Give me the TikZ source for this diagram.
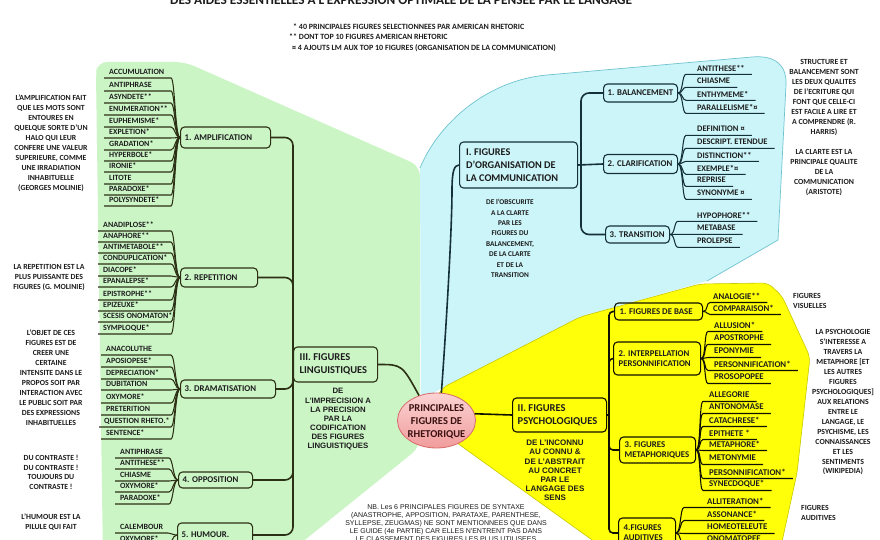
\documentclass[tikz,border=0pt]{standalone}
\usepackage{fontspec}
\setmainfont{Carlito}
\newfontfamily\arialf{Liberation Sans}
\usetikzlibrary{calc,shapes.geometric}
\definecolor{gbg}{HTML}{CCF5C6}
\definecolor{bbg}{HTML}{CCF5F9}
\definecolor{bout}{HTML}{6EC3CF}
\definecolor{ybg}{HTML}{FFFF0A}
\definecolor{yout}{HTML}{C8C800}
\definecolor{gln}{HTML}{2C3014}
\definecolor{bln}{HTML}{14303A}
\definecolor{yln}{HTML}{101000}
\definecolor{txt}{HTML}{1C1C1C}
\definecolor{pinkt}{HTML}{FBD3D3}
\definecolor{pinkb}{HTML}{F19C9C}
\definecolor{pinkd}{HTML}{D86A6A}
\definecolor{ctrtxt}{HTML}{3A1010}
\def\uo{6}
\def\bxp{4.5}
\newcommand{\LIt}[6]{%
  \node[itm,anchor=west] (#2) at (#4,#5) {#6};
  \coordinate (#2u) at (#3,{#5+\uo});
  \draw[brl] (#1.west) .. controls +(-5,0) and +(4,0) .. (#2u) -- ($(#2.west |- #2u)+(-5,0)$);}
\newcommand{\RIt}[6]{%
  \node[itm,anchor=west] (#2) at (#4,#5) {#6};
  \coordinate (#2u) at (#3,{#5+\uo});
  \draw[brl] (#1.east) .. controls +(5,0) and +(-4,0) .. (#2u) -- ($(#2.east |- #2u)+(7,0)$);}
\newcommand{\bx}[6]{%
  \node[bxs, minimum width=#4pt, minimum height=#5pt] (#1) at (#2,#3) {};
  \node[btx] (#1t) at ($(#1.west)+(\bxp,0)$) {#6};}
\begin{document}
\begin{tikzpicture}[x=1pt,y=-1pt,
  itm/.style={inner sep=0pt,text=txt,font=\bfseries\fontsize{8}{9}\selectfont},
  brl/.style={line width=1.05pt},
  trk/.style={line width=1.6pt,rounded corners=8pt},
  bxs/.style={draw,rounded corners=4pt,line width=1.1pt,inner sep=0pt,anchor=west},
  btx/.style={anchor=west,inner sep=0pt,align=left,text=txt,font=\bfseries\fontsize{8.8}{10}\selectfont},
  bigtx/.style={btx,font=\bfseries\fontsize{10.5}{13}\selectfont},
  note/.style={inner sep=0pt,align=center,text=txt,font=\bfseries\fontsize{7.8}{10}\selectfont}]
\useasboundingbox (0,0) rectangle (880,540);
\fill[white] (0,0) rectangle (880,540);
\clip (0,0) rectangle (880,540);

% ---------- regions
\fill[gbg, rounded corners=10pt] (103,560) -- (96,75) -- (97,62) -- (185,62) -- (420,166) -- (420,447) -- (280,560) -- cycle;
\fill[bbg] (421,400) -- (420,168) .. controls (440,120) and (490,80) .. (547,75) -- (752,57) .. controls (775,55) and (787,65) .. (786,85) -- (778,240) -- (707,281) -- (580,317) -- (442,388) -- cycle;
\draw[bout, line width=0.7pt] (420,168) .. controls (440,120) and (490,80) .. (547,75) -- (752,57) .. controls (775,55) and (787,65) .. (786,85) -- (778,240) -- (707,281);
\filldraw[fill=ybg, draw=yout, line width=0.6pt, rounded corners=6pt] (442,388) -- (580,317) -- (700,284) -- (768,283) -- (782,296) -- (810,357) -- (797,473) -- (778,560) -- (620,560) -- (425,420) -- cycle;

% ---------- title and legend
\node[anchor=base west, inner sep=0pt, text=txt, font=\bfseries\fontsize{13.3}{15}\selectfont] (ttl) at (170,4.5) {DES AIDES ESSENTIELLES A L'EXPRESSION OPTIMALE DE LA PENSEE PAR LE LANGAGE};
\node[anchor=west, inner sep=0pt, text=txt, font=\bfseries\fontsize{8}{10}\selectfont] (lg1) at (293,27) {* 40 PRINCIPALES FIGURES SELECTIONNEES PAR AMERICAN RHETORIC};
\node[anchor=west, inner sep=0pt, text=txt, font=\bfseries\fontsize{8}{10}\selectfont] (lg2) at (289,37) {** DONT TOP 10 FIGURES AMERICAN RHETORIC};
\node[anchor=west, inner sep=0pt, text=txt, font=\bfseries\fontsize{8}{10}\selectfont] (lg3) at (292,48) {¤ 4 AJOUTS LM AUX TOP 10 FIGURES (ORGANISATION DE LA COMMUNICATION)};

% ---------- centre
\node[ellipse, minimum width=78pt, minimum height=55pt, inner sep=0pt, draw=pinkd, line width=0.8pt, top color=pinkt, bottom color=pinkb] (ctr) at (436.5,420.5) {};
\node[align=center, inner sep=0pt, text=ctrtxt, font=\bfseries\fontsize{10.5}{13}\selectfont] (ctrt) at (436.5,421.5) {PRINCIPALES\\FIGURES DE\\RHETORIQUE};

% ---------- green : III
\begin{scope}[color=gln]
\node[bxs, minimum width=84pt, minimum height=35pt] (III) at (293,364.5) {};
\node[bigtx] (IIIt) at ($(III.west)+(6.5,0)$) {III. FIGURES\\LINGUISTIQUES};
\bx{b1}{180}{137.5}{90}{21}{1. AMPLIFICATION}
\bx{b2}{180}{277.5}{77}{19}{2. REPETITION}
\bx{b3}{180}{389}{95}{18}{3. DRAMATISATION}
\bx{b4}{178}{480}{74}{16}{4. OPPOSITION}
\bx{b5}{177}{535}{75}{24}{5. HUMOUR.}
\draw[trk] (III.west) |- (b1.east);
\draw[trk] (III.west) |- (b2.east);
\draw[trk] (III.west) |- (b3.east);
\draw[trk] (III.west) |- (b4.east);
\draw[trk] (III.west) |- (b5.east);
\draw[line width=1.6pt] (III.east) .. controls (402,364.5) .. (ctr.125);
\LIt{b1}{a1}{171}{109}{72}{ACCUMULATION}
\LIt{b1}{a2}{171}{109}{85}{ANTIPHRASE}
\LIt{b1}{a3}{171}{109}{97}{ASYNDETE**}
\LIt{b1}{a4}{171}{109}{109}{ENUMERATION**}
\LIt{b1}{a5}{171}{109}{121}{EUPHEMISME*}
\LIt{b1}{a6}{171}{109}{132}{EXPLETION*}
\LIt{b1}{a7}{171}{109}{144}{GRADATION*}
\LIt{b1}{a8}{171}{109}{155}{HYPERBOLE*}
\LIt{b1}{a9}{171}{109}{166}{IRONIE*}
\LIt{b1}{a10}{171}{109}{178}{LITOTE}
\LIt{b1}{a11}{171}{109}{189}{PARADOXE*}
\LIt{b1}{a12}{171}{109}{200}{POLYSYNDETE*}
\LIt{b2}{r1}{171}{103}{225}{ANADIPLOSE**}
\LIt{b2}{r2}{171}{103}{236}{ANAPHORE**}
\LIt{b2}{r3}{171}{103}{247}{ANTIMETABOLE**}
\LIt{b2}{r4}{171}{103}{258}{CONDUPLICATION*}
\LIt{b2}{r5}{171}{103}{270}{DIACOPE*}
\LIt{b2}{r6}{171}{103}{281}{EPANALEPSE*}
\LIt{b2}{r7}{171}{103}{294}{EPISTROPHE**}
\LIt{b2}{r8}{171}{103}{305}{EPIZEUXE*}
\LIt{b2}{r9}{171}{103}{316}{SCESIS ONOMATON*}
\LIt{b2}{r10}{171}{103}{328}{SYMPLOQUE*}
\LIt{b3}{d1}{171}{106}{349}{ANACOLUTHE}
\LIt{b3}{d2}{171}{106}{361}{APOSIOPESE*}
\LIt{b3}{d3}{171}{106}{373}{DEPRECIATION*}
\LIt{b3}{d4}{171}{106}{384}{DUBITATION}
\LIt{b3}{d5}{171}{106}{397}{OXYMORE*}
\LIt{b3}{d6}{171}{106}{409}{PRETERITION}
\LIt{b3}{d7}{171}{104}{421}{QUESTION RHETO.*}
\LIt{b3}{d8}{171}{106}{433}{SENTENCE*}
\LIt{b4}{o1}{169}{120}{452}{ANTIPHRASE}
\LIt{b4}{o2}{169}{120}{463}{ANTITHESE**}
\LIt{b4}{o3}{169}{120}{475}{CHIASME}
\LIt{b4}{o4}{169}{120}{486}{OXYMORE*}
\LIt{b4}{o5}{169}{120}{498}{PARADOXE*}
\LIt{b5}{h1}{168}{120}{527}{CALEMBOUR}
\LIt{b5}{h2}{168}{120}{539}{OXYMORE*}
\end{scope}

% ---------- blue : I
\begin{scope}[color=bln, itm/.style={inner sep=0pt,text=txt,font=\bfseries\fontsize{8.5}{9}\selectfont}]
\def\uo{6.3}
\node[bxs, minimum width=118pt, minimum height=46pt] (I) at (459,165) {};
\node[btx, font=\bfseries\fontsize{10.3}{12.9}\selectfont] (It) at ($(I.west)+(7,0)$) {I. FIGURES\\D'ORGANISATION DE\\LA COMMUNICATION};
\bx{BAL}{603}{93}{74}{18}{1. BALANCEMENT}
\bx{CLAR}{603}{164}{74}{19}{2. CLARIFICATION}
\bx{TRAN}{605}{234.5}{64}{17}{3. TRANSITION}
\coordinate (jI) at (581,165);
\draw[trk] (I.east) -- (CLAR.west);
\draw[trk] (jI) |- (BAL.west);
\draw[trk] (jI) |- (TRAN.west);
\draw[line width=1.6pt] (ctr.80) .. controls (446,330) and (452,230) .. (452,190) .. controls (452,172) and (454,165) .. (I.west);
\RIt{BAL}{ba1}{686}{697}{68}{ANTITHESE**}
\RIt{BAL}{ba2}{686}{697}{81}{CHIASME}
\RIt{BAL}{ba3}{686}{697}{94}{ENTHYMEME*}
\RIt{BAL}{ba4}{686}{697}{107}{PARALLELISME*¤}
\RIt{CLAR}{cl1}{686}{697}{129}{DEFINITION ¤}
\RIt{CLAR}{cl2}{686}{697}{142}{DESCRIPT. ETENDUE}
\RIt{CLAR}{cl3}{686}{697}{155}{DISTINCTION**}
\RIt{CLAR}{cl4}{686}{697}{168}{EXEMPLE*¤}
\RIt{CLAR}{cl5}{686}{697}{180}{REPRISE}
\RIt{CLAR}{cl6}{686}{697}{193}{SYNONYME ¤}
\RIt{TRAN}{tr1}{678}{697}{215}{HYPOPHORE**}
\RIt{TRAN}{tr2}{678}{697}{228}{METABASE}
\RIt{TRAN}{tr3}{678}{697}{241}{PROLEPSE}
\end{scope}

% ---------- yellow : II
\begin{scope}[color=yln, itm/.style={inner sep=0pt,text=txt,font=\bfseries\fontsize{8.8}{9}\selectfont}]
\def\uo{6.5}
\def\bxp{5.5}
\node[bxs, minimum width=94pt, minimum height=34pt] (II) at (512,415) {};
\node[bigtx] (IIt) at ($(II.west)+(5.5,0)$) {II. FIGURES\\PSYCHOLOGIQUES};
\bx{FB}{614}{311.5}{88}{17}{1. FIGURES DE BASE}
\bx{IP}{613}{358.5}{87}{33}{2. INTERPELLATION\\PERSONNIFICATION}
\bx{FM}{619}{450}{76}{26}{3. FIGURES\\METAPHORIQUES}
\bx{FA}{618}{533}{57}{30}{4.FIGURES\\AUDITIVES}
\coordinate (jII) at (609,415);
\draw[line width=1.6pt] (ctr.10) -- (II.west);
\draw[line width=1.6pt] (II.east) -- (jII);
\draw[trk, rounded corners=4pt] (jII) |- (FB.west);
\draw[trk, rounded corners=4pt] (jII) |- (IP.west);
\draw[trk, rounded corners=4pt] (jII) |- (FM.west);
\draw[trk, rounded corners=4pt] (jII) |- (FA.west);
\RIt{FB}{fb1}{710}{713}{296}{ANALOGIE**}
\RIt{FB}{fb2}{710}{713}{308}{COMPARAISON*}
\RIt{IP}{ip1}{708}{714}{325}{ALLUSION*}
\RIt{IP}{ip2}{708}{714}{338}{APOSTROPHE}
\RIt{IP}{ip3}{708}{714}{351}{EPONYMIE}
\RIt{IP}{ip4}{708}{714}{364}{PERSONNIFICATION*}
\RIt{IP}{ip5}{708}{714}{377}{PROSOPOPEE}
\RIt{FM}{fm1}{703}{709}{395}{ALLEGORIE}
\RIt{FM}{fm2}{703}{709}{407}{ANTONOMASE}
\RIt{FM}{fm3}{703}{709}{420}{CATACHRESE*}
\RIt{FM}{fm4}{703}{709}{433}{EPITHETE *}
\RIt{FM}{fm5}{703}{709}{444}{METAPHORE*}
\RIt{FM}{fm6}{703}{709}{458}{METONYMIE}
\RIt{FM}{fm7}{703}{709}{472}{PERSONNIFICATION*}
\RIt{FM}{fm8}{703}{709}{484}{SYNECDOQUE*}
\RIt{FA}{fa1}{684}{707}{501}{ALLITERATION*}
\RIt{FA}{fa2}{684}{707}{514}{ASSONANCE*}
\RIt{FA}{fa3}{684}{707}{527}{HOMEOTELEUTE}
\RIt{FA}{fa4}{684}{707}{539}{ONOMATOPEE}
\end{scope}

% ---------- descriptions
\node[note, font=\bfseries\fontsize{7.3}{10.4}\selectfont] (dI) at (510,238.5) {DE l'OBSCURITE\\A LA CLARTE\\PAR LES\\FIGURES DU\\BALANCEMENT,\\DE LA CLARTE\\ET DE LA\\TRANSITION};
\node[note, font=\arialf\bfseries\fontsize{7.8}{9.15}\selectfont] (dIII) at (338,419.5) {DE\\L'IMPRECISION A\\LA PRECISION\\PAR LA\\CODIFICATION\\DES FIGURES\\LINGUISTIQUES};
\node[note, font=\arialf\bfseries\fontsize{8}{9.2}\selectfont] (dII) at (555,470.5) {DE L'INCONNU\\AU CONNU \&\\DE L'ABSTRAIT\\AU CONCRET\\PAR LE\\LANGAGE DES\\SENS};
\node[note, font=\arialf\fontsize{7}{8}\selectfont] (nb) at (446,523) {NB. Les 6 PRINCIPALES FIGURES DE SYNTAXE\\(ANASTROPHE, APPOSITION, PARATAXE, PARENTHESE,\\SYLLEPSE, ZEUGMAS) NE SONT MENTIONNEES QUE DANS\\LE GUIDE (4e PARTIE) CAR ELLES N'ENTRENT PAS DANS\\LE CLASSEMENT DES FIGURES LES PLUS UTILISEES};

% ---------- side notes
\node[note] (n1) at (51,143) {L'AMPLIFICATION FAIT\\QUE LES MOTS SONT\\ENTOURES EN\\QUELQUE SORTE D'UN\\HALO QUI LEUR\\CONFERE UNE VALEUR\\SUPERIEURE, COMME\\UNE IRRADIATION\\INHABITUELLE\\(GEORGES MOLINIE)};
\node[note] (n2) at (49,278) {LA REPETITION EST LA\\PLUS PUISSANTE DES\\FIGURES (G. MOLINIE)};
\node[note] (n3) at (51,377.5) {L'OBJET DE CES\\FIGURES EST DE\\CREER UNE\\CERTAINE\\INTENSITE DANS LE\\PROPOS SOIT PAR\\INTERACTION AVEC\\LE PUBLIC SOIT PAR\\DES EXPRESSIONS\\INHABITUELLES};
\node[note, font=\bfseries\fontsize{7.8}{9.7}\selectfont] (n4) at (51,472.5) {DU CONTRASTE !\\DU CONTRASTE !\\TOUJOURS DU\\CONTRASTE !};
\node[note] (n5) at (51,522) {L'HUMOUR EST LA\\PILULE QUI FAIT};
\node[note, font=\bfseries\fontsize{7.8}{9.9}\selectfont] (m1) at (824,97.5) {STRUCTURE ET\\BALANCEMENT SONT\\LES DEUX QUALITES\\DE l'ECRITURE QUI\\FONT QUE CELLE-CI\\EST FACILE A LIRE ET\\A COMPRENDRE (R.\\HARRIS)};
\node[note] (m2) at (824,173) {LA CLARTE EST LA\\PRINCIPALE QUALITE\\DE LA\\COMMUNICATION\\(ARISTOTE)};
\node[note, align=left, anchor=west] (m3) at (793,301) {FIGURES\\VISUELLES};
\node[note, font=\bfseries\fontsize{7.8}{9.93}\selectfont] (m4) at (843,402.5) {LA PSYCHOLOGIE\\S'INTERESSE A\\TRAVERS LA\\METAPHORE [ET\\LES AUTRES\\FIGURES\\PSYCHOLOGIQUES]\\AUX RELATIONS\\ENTRE LE\\LANGAGE, LE\\PSYCHISME, LES\\CONNAISSANCES\\ET LES\\SENTIMENTS\\(WIKIPEDIA)};
\node[note, align=left, anchor=west] (m5) at (801,513) {FIGURES\\AUDITIVES};
\end{tikzpicture}
\end{document}
